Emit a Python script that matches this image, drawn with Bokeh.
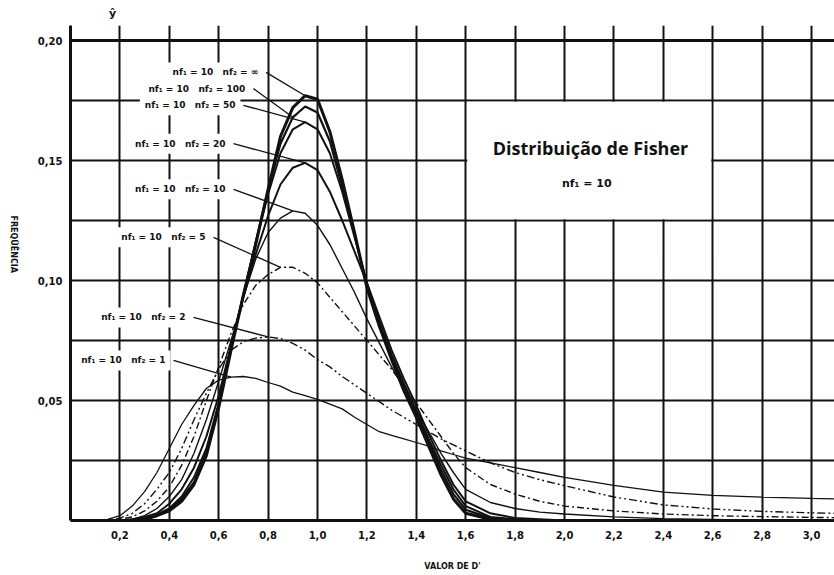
import math
from bokeh.plotting import figure
from bokeh.models import FixedTicker, Span, LinearAxis, ColumnDataSource
from bokeh.embed import file_html
from bokeh.resources import INLINE
from bokeh.core.properties import value

# ---------------- data ----------------
X = [0.10, 0.15, 0.20, 0.25, 0.30, 0.35, 0.40, 0.45, 0.50, 0.55,
     0.60, 0.65, 0.70, 0.75, 0.80, 0.85, 0.90, 0.95, 1.00, 1.05,
     1.10, 1.15, 1.20, 1.25, 1.30, 1.35, 1.40, 1.45, 1.50, 1.55,
     1.60, 1.70, 1.80, 1.90, 2.00, 2.20, 2.40, 2.60, 2.80, 3.00, 3.10]

Y_NF2_INF = [0, 0, 0, 0, 0.0005, 0.002, 0.004, 0.008, 0.015, 0.027,
             0.047, 0.071, 0.094, 0.115, 0.138, 0.160, 0.172, 0.177, 0.1755, 0.162,
             0.142, 0.120, 0.097, 0.081, 0.067, 0.054, 0.043, 0.031, 0.019, 0.009,
             0.003, 0.0005, 0, 0, 0, 0, 0, 0, 0, 0, 0]
Y_NF2_100 = [0, 0, 0, 0, 0.0005, 0.002, 0.0045, 0.009, 0.016, 0.028,
             0.048, 0.072, 0.094, 0.116, 0.138, 0.157, 0.168, 0.1725, 0.170, 0.158,
             0.139, 0.119, 0.098, 0.082, 0.068, 0.056, 0.045, 0.033, 0.021, 0.011,
             0.0045, 0.001, 0, 0, 0, 0, 0, 0, 0, 0, 0]
Y_NF2_50 = [0, 0, 0, 0, 0.001, 0.0025, 0.005, 0.010, 0.018, 0.030,
            0.049, 0.072, 0.094, 0.116, 0.136, 0.153, 0.163, 0.166, 0.163, 0.153,
            0.137, 0.118, 0.099, 0.083, 0.069, 0.057, 0.046, 0.034, 0.023, 0.013,
            0.006, 0.0015, 0.0005, 0, 0, 0, 0, 0, 0, 0, 0]
Y_NF2_20 = [0, 0, 0, 0.0005, 0.0015, 0.003, 0.007, 0.013, 0.022, 0.035,
            0.052, 0.073, 0.093, 0.111, 0.127, 0.140, 0.147, 0.149, 0.146, 0.137,
            0.125, 0.112, 0.099, 0.085, 0.071, 0.059, 0.048, 0.036, 0.025, 0.015,
            0.008, 0.003, 0.001, 0.0005, 0, 0, 0, 0, 0, 0, 0]
Y_NF2_10 = [0, 0, 0, 0.0005, 0.002, 0.005, 0.010, 0.017, 0.028, 0.042,
            0.058, 0.075, 0.093, 0.109, 0.120, 0.126, 0.129, 0.128, 0.123, 0.115,
            0.105, 0.095, 0.084, 0.074, 0.064, 0.055, 0.046, 0.037, 0.028, 0.020,
            0.013, 0.0075, 0.005, 0.0035, 0.0027, 0.0015, 0.0008, 0.0004, 0, 0, 0]
Y_NF2_5 = [0, 0, 0.0005, 0.0015, 0.004, 0.008, 0.014, 0.023, 0.035, 0.050,
           0.064, 0.078, 0.090, 0.098, 0.1025, 0.1055, 0.1055, 0.103, 0.099, 0.093,
           0.087, 0.081, 0.075, 0.069, 0.063, 0.056, 0.049, 0.042, 0.035, 0.028,
           0.022, 0.015, 0.011, 0.008, 0.006, 0.004, 0.0027, 0.002, 0.0016, 0.0013, 0.0012]
Y_NF2_2 = [0, 0, 0.001, 0.003, 0.007, 0.013, 0.020, 0.030, 0.042, 0.053,
           0.063, 0.071, 0.0745, 0.076, 0.0765, 0.0758, 0.0738, 0.071, 0.067, 0.064,
           0.060, 0.0565, 0.053, 0.0495, 0.046, 0.043, 0.040, 0.037, 0.034, 0.0315,
           0.029, 0.024, 0.020, 0.017, 0.0145, 0.0098, 0.0065, 0.0048, 0.0038, 0.0032, 0.003]
Y_NF2_1 = [0, 0.0005, 0.002, 0.006, 0.012, 0.020, 0.030, 0.040, 0.048, 0.055,
           0.0585, 0.0597, 0.060, 0.0592, 0.0575, 0.056, 0.0535, 0.052, 0.0505, 0.0485,
           0.0465, 0.043, 0.040, 0.037, 0.0355, 0.034, 0.0325, 0.031, 0.029, 0.0275,
           0.026, 0.024, 0.022, 0.020, 0.018, 0.0146, 0.0118, 0.0105, 0.0097, 0.0092, 0.009]

NF2 = ["∞", "100", "50", "20", "10", "5", "2", "1"]
SERIES = [Y_NF2_INF, Y_NF2_100, Y_NF2_50, Y_NF2_20, Y_NF2_10, Y_NF2_5, Y_NF2_2, Y_NF2_1]

X_TICKS = [0.2, 0.4, 0.6, 0.8, 1.0, 1.2, 1.4, 1.6, 1.8, 2.0, 2.2, 2.4, 2.6, 2.8, 3.0]
X_TICK_LABELS = ["0,2", "0,4", "0,6", "0,8", "1,0", "1,2", "1,4", "1,6", "1,8",
                 "2,0", "2,2", "2,4", "2,6", "2,8", "3,0"]
Y_TICKS = [0.05, 0.10, 0.15, 0.20]
Y_TICK_LABELS = ["0,05", "0,10", "0,15", "0,20"]
Y_GRID = [0.025, 0.05, 0.075, 0.10, 0.125, 0.15, 0.175, 0.20]
TOP_MARK_X = [0.17]
TOP_MARK = ["ŷ"]

TITLE = "Distribuição de Fisher"
SUBTITLE = "nf₁ = 10"
X_LABEL = "VALOR DE D'"
Y_LABEL = "FREQÜÊNCIA"
NBSP = "\u00a0"

# ---------------- styling / layout ----------------
STYLES = [  # width, dash
    (3.0, "solid"), (2.2, "solid"), (2.0, "solid"), (2.0, "solid"),
    (1.4, "solid"), (1.4, "7 3 2 3"), (1.4, "8 3 2 3 2 3"), (1.3, "solid"),
]
LABEL_POS = [(0.78, 0.1867), (0.728, 0.180), (0.688, 0.173), (0.648, 0.157),
             (0.648, 0.138), (0.567, 0.118), (0.486, 0.0846), (0.405, 0.0667)]
LEADER_X = [0.95, 0.90, 0.95, 0.95, 0.90, 0.85, 0.80, 0.65]

p = figure(width=834, height=575, output_backend="svg", toolbar_location=None,
           x_range=(0, 3.093), y_range=(0, 0.20625),
           min_border_left=70, min_border_right=0, min_border_top=25,
           min_border_bottom=55, background_fill_color="white",
           border_fill_color="white")
p.outline_line_color = None

bottom_axis = p.below[0]
left_axis = p.left[0]

p.xgrid.ticker = FixedTicker(ticks=X_TICKS)
p.ygrid.ticker = FixedTicker(ticks=Y_GRID)
for g in (p.xgrid, p.ygrid):
    g.grid_line_color = "#111111"
    g.grid_line_width = 2

bottom_axis.ticker = FixedTicker(ticks=X_TICKS)
bottom_axis.major_label_overrides = dict(zip(X_TICKS, X_TICK_LABELS))
left_axis.ticker = FixedTicker(ticks=Y_TICKS)
left_axis.major_label_overrides = dict(zip(Y_TICKS, Y_TICK_LABELS))

top_axis = LinearAxis(ticker=FixedTicker(ticks=TOP_MARK_X),
                      major_label_overrides=dict(zip(TOP_MARK_X, TOP_MARK)))
p.add_layout(top_axis, "above")

for ax in (bottom_axis, left_axis, top_axis):
    ax.axis_line_width = 3
    ax.axis_line_color = "#111111"
    ax.major_tick_line_color = None
    ax.minor_tick_line_color = None
    ax.major_label_text_font = "DejaVu Sans"
    ax.major_label_text_font_style = "bold"
    ax.major_label_text_font_size = "10px"
    ax.major_label_text_color = "#111111"
    ax.axis_label_text_font = "DejaVu Sans"
    ax.axis_label_text_font_style = "bold"
    ax.axis_label_text_font_size = "8px"
    ax.axis_label_text_color = "#111111"
top_axis.axis_line_color = None
top_axis.major_label_standoff = 0
top_axis.major_label_text_font_size = "11px"

bottom_axis.major_label_standoff = 4
left_axis.major_label_standoff = 2
bottom_axis.axis_label = X_LABEL
bottom_axis.axis_label_standoff = 20
left_axis.axis_label = Y_LABEL
left_axis.axis_label_standoff = 21
left_axis.axis_label_orientation = -math.pi / 2

p.add_layout(Span(location=0.20, dimension="width", line_color="#111111", line_width=3))

# blank box behind the title
p.quad(left=[1.606], right=[2.594], bottom=[0.1255], top=[0.1745],
       fill_color="white", line_color=None)

for ys, (w, dash) in zip(SERIES, STYLES):
    p.line(X, ys, line_color="#111111", line_width=w, line_dash=dash)

# curve labels
lab_src = ColumnDataSource(dict(
    x=[lp[0] for lp in LABEL_POS], y=[lp[1] for lp in LABEL_POS],
    text=["nf₁ = 10" + NBSP * 3 + "nf₂ = " + n for n in NF2]))
p.text(x="x", y="y", text="text", source=lab_src, text_align="right",
       text_baseline="middle", text_font=value("DejaVu Sans"),
       text_font_style="bold", text_font_size="9px", text_color="#111111",
       background_fill_color="white", padding=5)

# leader lines from the label end to the curve
x1s, y1s = [], []
for ys, lx in zip(SERIES, LEADER_X):
    i = min(range(len(X)), key=lambda k: abs(X[k] - lx))
    x1s.append(X[i])
    y1s.append(ys[i])
p.segment(x0=[lp[0] + 0.012 for lp in LABEL_POS], y0=[lp[1] for lp in LABEL_POS],
          x1=x1s, y1=y1s, line_color="#111111", line_width=1.3)

p.text(x=[2.105], y=[0.1554], text=[TITLE], text_align="center",
       text_baseline="middle", text_font=value("Open Sans"), text_font_size="18px",
       text_font_style="bold", text_color="#111111")
p.text(x=[2.09], y=[0.1404], text=[SUBTITLE], text_align="center",
       text_baseline="middle", text_font=value("DejaVu Sans"), text_font_size="11px",
       text_font_style="bold", text_color="#111111")

open("out.html", "w").write(file_html(p, INLINE))
